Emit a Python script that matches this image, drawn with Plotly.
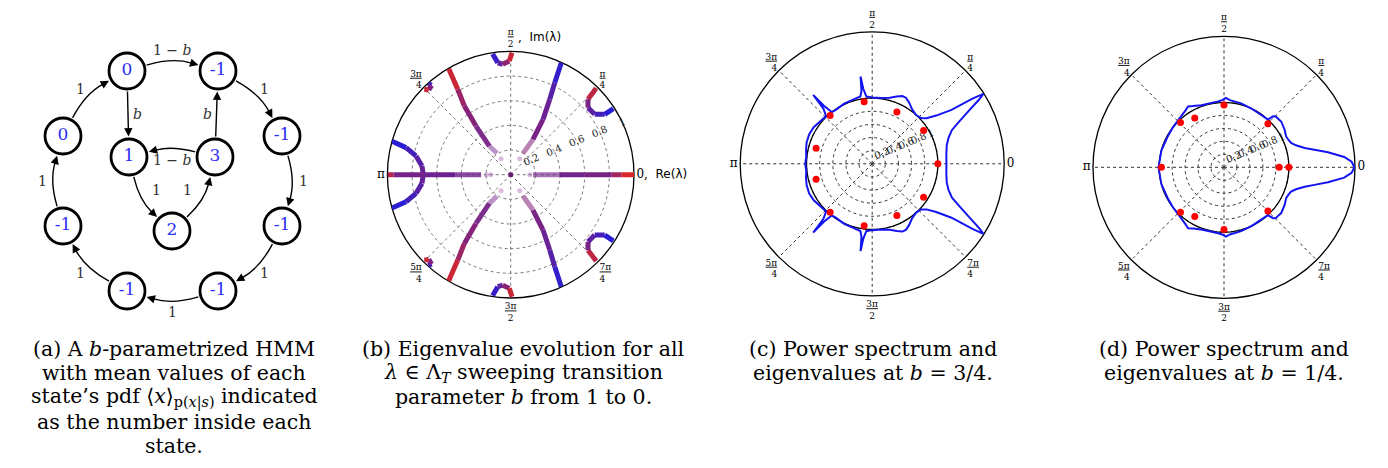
import numpy as np
import plotly.graph_objects as go

W, H = 1388, 468

# ---------------- Panel (a): HMM diagram ----------------
node_x = [119, 210, 274, 274, 210, 119, 55, 55, 121, 207, 164]
node_y = [63, 63, 128, 218, 283, 283, 218, 128, 149, 149, 223]
node_means = ['0', '-1', '-1', '-1', '-1', '-1', '-1', '0', '1', '3', '2']
edge_src = [0, 1, 2, 3, 4, 5, 6, 7, 0, 9, 9, 8, 10]
edge_dst = [1, 2, 3, 4, 5, 6, 7, 0, 8, 1, 8, 10, 9]
edge_prob = ['1 − <i>b</i>', '1', '1', '1', '1', '1', '1', '1',
             '<i>b</i>', '<i>b</i>', '1 − <i>b</i>', '1', '1']
# style of each edge (bend of the arc, distance of its label)
edge_bend = [0.15] * 8 + [0, 0, -0.13, -0.15, -0.15]
edge_label_off = [21] * 8 + [9, 9, 3, 7, 7]

# ---------------- Panel (b): eigenvalue trajectories ----------------
# theta in degrees, r modulus, shade 0 = blue ... 1 = red
eig_A_up = dict(theta=[65.7, 64.4, 62.6, 59.7, 57.8, 60.0],
                r=[0.997, 0.827, 0.688, 0.52, 0.339, 0.20],
                shade=[0.0, 0.25, 0.4, 0.5, 0.55, 0.6])
eig_A_dn = dict(theta=[-65.7, -64.4, -62.6, -59.7, -57.8, -60.0],
                r=[0.997, 0.827, 0.688, 0.52, 0.339, 0.20],
                shade=[0.0, 0.25, 0.4, 0.5, 0.55, 0.6])
eig_B_up = dict(theta=[120.3, 121.8, 124.0, 125.5, 126.7, 122.6],
                r=[0.996, 0.815, 0.672, 0.485, 0.29, 0.206],
                shade=[1.0, 0.72, 0.6, 0.55, 0.5, 0.5])
eig_B_dn = dict(theta=[-120.3, -121.8, -124.0, -125.5, -126.7, -122.6],
                r=[0.996, 0.815, 0.672, 0.485, 0.29, 0.206],
                shade=[1.0, 0.72, 0.6, 0.55, 0.5, 0.5])
eig_C = dict(theta=[164.3, 165.5, 168.8, 174.4, 180, 185.6, 191.2, 194.5, 195.7],
             r=[1.0, 0.877, 0.783, 0.723, 0.709, 0.723, 0.783, 0.877, 1.0],
             shade=[0.0, 0.15, 0.3, 0.4, 0.45, 0.4, 0.3, 0.15, 0.0])
eig_re_pos = dict(theta=[0, 0, 0, 0, 0, 0],
                  r=[1.0, 0.9, 0.82, 0.6, 0.4, 0.18],
                  shade=[1.0, 0.85, 0.55, 0.5, 0.5, 0.5])
eig_re_neg = dict(theta=[180, 180, 180, 180, 180],
                  r=[1.0, 0.95, 0.7, 0.45, 0.24],
                  shade=[1.0, 0.55, 0.47, 0.47, 0.5])
eig_T_up = dict(theta=[98.5, 96.6, 94.1, 90.7, 89.4],
                r=[0.99, 0.914, 0.898, 0.922, 0.99],
                shade=[0.0, 0.3, 0.5, 0.7, 1.0])
eig_T_dn = dict(theta=[-98.5, -96.6, -94.1, -90.7, -89.4],
                r=[0.99, 0.914, 0.898, 0.922, 0.99],
                shade=[0.0, 0.3, 0.5, 0.7, 1.0])
eig_Q1 = dict(theta=[45.3, 44.3, 40.9, 35.7, 32.7, 32.8],
              r=[0.985, 0.876, 0.83, 0.839, 0.906, 0.99],
              shade=[1.0, 0.6, 0.45, 0.3, 0.15, 0.0])
eig_Q4 = dict(theta=[-45.3, -44.3, -40.9, -35.7, -32.7, -32.8],
              r=[0.985, 0.876, 0.83, 0.839, 0.906, 0.99],
              shade=[1.0, 0.6, 0.45, 0.3, 0.15, 0.0])
eig_Q2 = dict(theta=[132.2, 131.5, 134.1, 135.3],
              r=[0.995, 0.968, 0.956, 0.985],
              shade=[0.0, 0.4, 0.7, 1.0])
eig_Q3 = dict(theta=[-132.2, -131.5, -134.1, -135.3],
              r=[0.995, 0.968, 0.956, 0.985],
              shade=[0.0, 0.4, 0.7, 1.0])
eig_start_theta = [60.6, 121, -60.6, -121, 0, 180, 180]
eig_start_r = [0.149, 0.152, 0.149, 0.152, 0.154, 0.162, 0.197]

# ---------------- Panel (c): b = 3/4 ----------------
spec_c_theta = [-180, -174, -168, -162, -155, -148, -140, -134, -131.5, -130.6, -129.8, -128,
                -124, -115, -106, -100, -98.4, -97.6, -96.8, -95, -90, -82, -75, -70, -66, -63,
                -59, -54, -48, -43, -40, -37, -34.2, -33, -32.2, -31, -29, -26, -23, -19, -14, -8,
                0, 8, 14, 19, 23, 26, 29, 31, 32.2, 33, 34.2, 37, 40, 43, 48, 54, 59, 63, 66, 70,
                75, 82, 90, 95, 96.8, 97.6, 98.4, 100, 106, 115, 124, 128, 129.8, 130.6, 131.5,
                134, 140, 148, 155, 162, 168, 174, 180]
spec_c_r = [1.02, 1.01, 1.03, 1.05, 1.06, 1.05, 1.02, 1.01, 1.12, 1.38, 1.15, 1.0,
            0.99, 1.01, 1.02, 1.04, 1.12, 1.34, 1.15, 1.03, 1.01, 1.01, 1.04, 1.09, 1.13, 1.13,
            1.09, 1.03, 1.0, 1.02, 1.08, 1.22, 1.46, 1.82, 2.0, 1.90, 1.70, 1.48, 1.32, 1.23, 1.17, 1.14,
            1.13, 1.14, 1.17, 1.23, 1.32, 1.48, 1.70, 1.90, 2.0, 1.82, 1.46, 1.22, 1.08, 1.02, 1.0,
            1.03, 1.09, 1.13, 1.13, 1.09, 1.04, 1.01, 1.01, 1.03, 1.15, 1.34, 1.12, 1.04, 1.02,
            1.01, 0.99, 1.0, 1.15, 1.38, 1.12, 1.01, 1.02, 1.05, 1.06, 1.05, 1.03, 1.01, 1.02]
eig_c_theta = [0, 33, -33, 64.5, -64.5, 97.4, -97.4, 131, -131, 164.6, -164.6]
eig_c_r = [1.0, 0.933, 0.933, 0.873, 0.873, 0.952, 0.952, 0.976, 0.976, 0.886, 0.886]

# ---------------- Panel (d): b = 1/4 ----------------
spec_d_theta = [-180, -165, -151, -142, -132, -124, -120.5, -117, -110, -95, -91, -88.5, -85,
                -75, -65, -55, -47.5, -46.1, -44.3, -42.5, -38.7, -31.8, -26.4, -23, -19.9, -17,
                -13.5, -11, -8.2, -4.9, -2.5,
                0, 2.5, 4.9, 8.2, 11, 13.5, 17, 19.9, 23, 26.4, 31.8, 38.7, 42.5, 44.3, 46.1, 47.5,
                55, 65, 75, 85, 88.5, 91, 95, 110, 117, 120.5, 124, 132, 142, 151, 165, 180]
spec_d_r = [1.01, 1.0, 0.99, 1.0, 1.02, 1.06, 1.09, 1.06, 1.02, 1.02, 1.04, 1.07, 1.04,
            1.02, 1.0, 0.99, 1.0, 1.09, 1.12, 1.12, 1.13, 1.10, 1.07, 1.08, 1.10, 1.16,
            1.28, 1.42, 1.62, 1.86, 1.97,
            2.01, 1.97, 1.86, 1.62, 1.42, 1.28, 1.16, 1.10, 1.08, 1.07, 1.10, 1.13, 1.12, 1.12,
            1.09, 1.0, 0.99, 1.0, 1.02, 1.04, 1.07, 1.04, 1.02, 1.02, 1.06, 1.09, 1.06, 1.02,
            1.0, 0.99, 1.0, 1.01]
eig_d_theta = [0, 0, 44.8, -44.8, 90, -90, 120.7, -120.7, 134.1, -134.1, 180]
eig_d_r = [1.0, 0.851, 0.954, 0.954, 0.959, 0.959, 0.883, 0.883, 0.964, 0.964, 0.964]

angle_ticks = [0, 45, 90, 135, 180, 225, 270, 315]
radial_ticks = [0.2, 0.4, 0.6, 0.8, 1.0]
radial_labels = ['0.2', '0.4', '0.6', '0.8', '1']
unit_theta = list(range(0, 361, 3))

caption_lines = {
    'a': ['(a) A <i>b</i>-parametrized HMM', 'with mean values of each',
          'state’s pdf ⟨<i>x</i>⟩<sub>p(<i>x</i>|<i>s</i>)</sub> indicated',
          'as the number inside each', 'state.'],
    'b': ['(b) Eigenvalue evolution for all',
          '<i>λ</i> ∈ Λ<sub><i>T</i></sub> sweeping transition',
          'parameter <i>b</i> from 1 to 0.'],
    'c': ['(c) Power spectrum and', 'eigenvalues at <i>b</i> = 3/4.'],
    'd': ['(d) Power spectrum and', 'eigenvalues at <i>b</i> = 1/4.'],
}
caption_center_x = {'a': 166, 'b': 515, 'c': 865, 'd': 1215.5}

SERIF = 'DejaVu Serif'


def frac(num, den):
    return f'<u>{num}</u><br>{den}'


def big(s):
    return f'<span style="font-size:12px">{s}</span>'


fig = go.Figure()
shapes = []
annotations = []

# ---- panel (a) ----
def unit(v):
    return v / np.hypot(v[0], v[1])


R_node = 20.5
for k in range(len(edge_src)):
    p0 = np.array([node_x[edge_src[k]], node_y[edge_src[k]]], float)
    p1 = np.array([node_x[edge_dst[k]], node_y[edge_dst[k]]], float)
    d = p1 - p0
    L = np.hypot(*d)
    u = d / L
    n = np.array([u[1], -u[0]])
    mid = (p0 + p1) / 2
    c = mid + edge_bend[k] * L * n
    a0 = p0 + R_node * unit(c - p0)
    a1 = p1 + R_node * unit(c - p1)
    tan = unit(a1 - c)
    tail = a1 - 7 * tan
    shapes.append(dict(type='path', xref='x', yref='y', layer='below',
                       path=f'M {a0[0]:.2f},{a0[1]:.2f} Q {c[0]:.2f},{c[1]:.2f} {tail[0]:.2f},{tail[1]:.2f}',
                       line=dict(color='black', width=1.4)))
    annotations.append(dict(x=a1[0], y=a1[1], ax=tail[0], ay=tail[1], xref='x', yref='y',
                            axref='x', ayref='y', text='', showarrow=True, arrowhead=2,
                            arrowsize=1.2, arrowwidth=1.4, arrowcolor='black', standoff=0))
    lp = mid + edge_label_off[k] * n
    annotations.append(dict(x=lp[0], y=lp[1], xref='x', yref='y', text=edge_prob[k],
                            showarrow=False, font=dict(family=SERIF, size=14, color='#333')))

fig.add_trace(go.Scatter(x=node_x, y=node_y, mode='markers+text', text=node_means,
                         textposition='middle center', xaxis='x', yaxis='y',
                         marker=dict(size=36, color='white', line=dict(color='black', width=2.8)),
                         textfont=dict(family=SERIF, size=17, color='rgb(45,45,245)'),
                         hoverinfo='skip'))

# ---- panel (b) ----
BLUE = np.array([30, 30, 225])
PURPLE = np.array([115, 35, 140])
RED = np.array([238, 40, 20])


def cmap(t, a):
    if t < 0.5:
        c = BLUE + (PURPLE - BLUE) * (t / 0.5)
    else:
        c = PURPLE + (RED - PURPLE) * ((t - 0.5) / 0.5)
    return f'rgba({int(c[0])},{int(c[1])},{int(c[2])},{a:.2f})'


def fade(r):
    return float(np.clip((r - 0.1) / 0.3, 0.35, 1.0))


branches = [eig_A_up, eig_A_dn, eig_B_up, eig_B_dn, eig_C, eig_re_pos, eig_re_neg,
            eig_T_up, eig_T_dn, eig_Q1, eig_Q4, eig_Q2, eig_Q3]
for br in branches:
    th, rr, sh = br['theta'], br['r'], br['shade']
    for i in range(len(th) - 1):
        tm = (sh[i] + sh[i + 1]) / 2
        am = fade((rr[i] + rr[i + 1]) / 2)
        fig.add_trace(go.Scatterpolar(theta=[th[i], th[i + 1]], r=[rr[i], rr[i + 1]],
                                      mode='lines', subplot='polar', hoverinfo='skip',
                                      line=dict(color=cmap(tm, am), width=5)))
fig.add_trace(go.Scatterpolar(theta=eig_start_theta, r=eig_start_r, mode='markers',
                              subplot='polar', hoverinfo='skip',
                              marker=dict(size=5, color='rgba(150,60,160,0.35)')))
fig.add_trace(go.Scatterpolar(theta=[0], r=[0], mode='markers', subplot='polar',
                              hoverinfo='skip', marker=dict(size=5, color='rgb(100,30,110)')))

# ---- panels (c) and (d) ----
for sub, th, rr, et, er in [('polar2', spec_c_theta, spec_c_r, eig_c_theta, eig_c_r),
                            ('polar3', spec_d_theta, spec_d_r, eig_d_theta, eig_d_r)]:
    fig.add_trace(go.Scatterpolar(theta=unit_theta, r=[1] * len(unit_theta), mode='lines',
                                  subplot=sub, hoverinfo='skip',
                                  line=dict(color='black', width=1.3)))
    fig.add_trace(go.Scatterpolar(theta=th, r=rr, mode='lines', subplot=sub, hoverinfo='skip',
                                  line=dict(color='rgb(20,20,240)', width=2)))
    fig.add_trace(go.Scatterpolar(theta=et, r=er, mode='markers', subplot=sub, hoverinfo='skip',
                                  marker=dict(size=7, color='red')))


def polar_layout(xd, yd, rmax, ticktext, gridcolor):
    return dict(
        domain=dict(x=xd, y=yd), bgcolor='white',
        angularaxis=dict(tickmode='array', tickvals=angle_ticks, ticktext=ticktext,
                         direction='counterclockwise', rotation=0, showgrid=True,
                         gridcolor=gridcolor, griddash='dot', gridwidth=1, showline=True,
                         linecolor='black', linewidth=1.3, ticks='', layer='below traces',
                         tickfont=dict(family=SERIF, size=9, color='black')),
        radialaxis=dict(range=[0, rmax], tickmode='array', tickvals=radial_ticks,
                        ticktext=radial_labels, angle=22.5, tickangle=0,
                        side='counterclockwise', showline=False,
                        showgrid=True, gridcolor=gridcolor, griddash='dot', gridwidth=1,
                        ticks='', layer='below traces',
                        tickfont=dict(family=SERIF, size=10, color='#222')))


tt_b = [big('0,  <span style="font-family:DejaVu Sans">Re(λ)</span>'), frac('π', '4'),
        frac('π', '2'), frac('3π', '4'), big('π'), frac('5π', '4'), frac('3π', '2'), frac('7π', '4')]
tt_cd = [big('0'), frac('π', '4'), frac('π', '2'), frac('3π', '4'), big('π'),
         frac('5π', '4'), frac('3π', '2'), frac('7π', '4')]


def dom(cx, cy, R):
    return [(cx - R) / W, (cx + R) / W], [(H - cy - R) / H, (H - cy + R) / H]


xb, yb = dom(502.7, 166.7, 123.3)
xc, yc = dom(864.2, 155.8, 132)
xdd, ydd = dom(1216, 159.3, 131)

annotations.append(dict(x=508 / W, y=1 - 29 / H, xref='paper', yref='paper', xanchor='left',
                        yanchor='middle', showarrow=False,
                        text=',  <span style="font-family:DejaVu Sans">Im(λ)</span>',
                        font=dict(family=SERIF, size=12, color='black')))

LINE_Y0, LINE_DY = 341, 24.2
for key, lines in caption_lines.items():
    for i, txt in enumerate(lines):
        annotations.append(dict(x=caption_center_x[key] / W, y=1 - (LINE_Y0 + i * LINE_DY) / H,
                                xref='paper', yref='paper', xanchor='center', yanchor='middle',
                                showarrow=False, text=txt,
                                font=dict(family=SERIF, size=20.5, color='black')))

fig.update_layout(
    width=W, height=H, margin=dict(l=0, r=0, t=0, b=0), paper_bgcolor='white',
    plot_bgcolor='white', showlegend=False,
    xaxis=dict(domain=[0, 330 / W], range=[0, 330], visible=False),
    yaxis=dict(domain=[1 - 320 / H, 1], range=[320, 0], visible=False),
    polar=polar_layout(xb, yb, 1.0, tt_b, '#777'),
    polar2=polar_layout(xc, yc, 2.01, tt_cd, '#333'),
    polar3=polar_layout(xdd, ydd, 2.02, tt_cd, '#333'),
    shapes=shapes, annotations=annotations,
)

fig.write_html('out.html')
